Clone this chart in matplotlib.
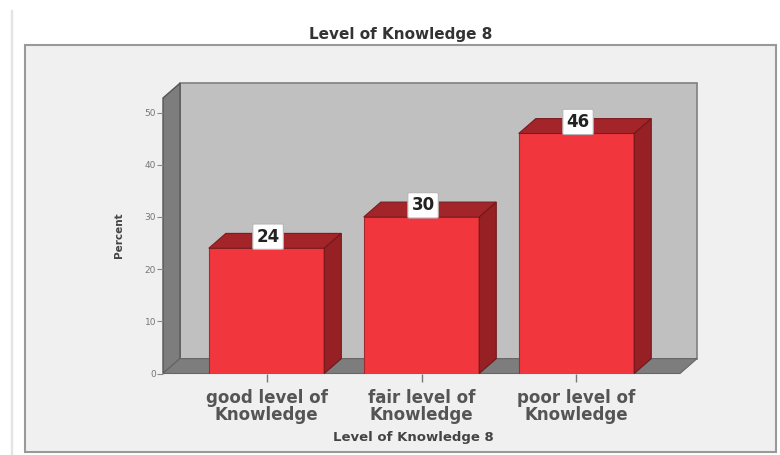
import numpy as np
import matplotlib
matplotlib.use('Agg')
import matplotlib.pyplot as plt
from matplotlib.patches import Polygon, Rectangle

# Datos
categorias = ['good level of\nKnowledge', 'fair level of\nKnowledge', 'poor level of\nKnowledge']
porcentajes = [24, 30, 46]
y_ticks = [0, 10, 20, 30, 40, 50]

W, H = 780, 455
dx, dy = 0.11, 2.85  # profundidad 3D en unidades de datos
ancho = 0.745

fig = plt.figure(figsize=(7.8, 4.55), dpi=100, facecolor='white')

# Paneles de fondo en pixeles
fig.add_artist(Rectangle((11 / W, 0), 1.5 / W, 1 - 10 / H, transform=fig.transFigure, color='#e4e4e4', zorder=-2))
fig.add_artist(Rectangle((25 / W, 1 - 452 / H), 751 / W, 407 / H, transform=fig.transFigure,
                         facecolor='#f0f0f0', edgecolor='#999999', lw=1.5, zorder=-1))

ax = fig.add_axes([163 / W, 1 - 373.5 / H, 517 / W, 275.5 / H])
ax.set_xlim(-0.668, 2.668)
ax.set_ylim(0, 52.8)
ax.patch.set_visible(False)
for s in ax.spines.values():
    s.set_visible(False)

x0, x1 = ax.get_xlim()
y1 = ax.get_ylim()[1]

# Paredes del grafico 3D
ax.add_patch(Rectangle((x0 + dx, dy), x1 - x0, y1, facecolor='#c0c0c0', edgecolor='#808080', lw=1.2, clip_on=False))
ax.add_patch(Polygon([(x0, 0), (x0 + dx, dy), (x0 + dx, y1 + dy), (x0, y1)], facecolor='#7d7d7d',
                     edgecolor='#555555', lw=1, clip_on=False))
ax.add_patch(Polygon([(x0, 0), (x1, 0), (x1 + dx, dy), (x0 + dx, dy)], facecolor='#7d7d7d',
                     edgecolor='#666666', lw=0.8, clip_on=False))

# Barras
pos = np.arange(len(porcentajes))
ax.bar(pos, porcentajes, width=ancho, color='#f2363d', edgecolor='#a52a2e', lw=0.8, zorder=3)
for p, v in zip(pos, porcentajes):
    a, b = p - ancho / 2, p + ancho / 2
    ax.add_patch(Polygon([(a, v), (b, v), (b + dx, v + dy), (a + dx, v + dy)], facecolor='#a32429',
                         edgecolor='#7a1c1f', lw=0.8, zorder=3, clip_on=False))
    ax.add_patch(Polygon([(b, 0), (b + dx, dy), (b + dx, v + dy), (b, v)], facecolor='#962024',
                         edgecolor='#6e1a1c', lw=0.8, zorder=3, clip_on=False))
    ax.text(p + 0.01, v + 0.5, str(v), ha='center', va='bottom', fontsize=12, fontweight='bold',
            color='#222222', zorder=5,
            bbox=dict(boxstyle='round,pad=0.22,rounding_size=0.08', facecolor='white', edgecolor='#b5b5b5', lw=0.8))

ax.set_xticks(pos)
ax.set_xticklabels(categorias, fontsize=12, color='#555555', fontweight='bold', linespacing=0.95)
ax.set_yticks(y_ticks)
ax.tick_params(axis='y', labelsize=6.5, labelcolor='#777777', length=4, width=0.8, color='#888888', pad=1)
ax.tick_params(axis='x', length=6, width=1, color='#777777', pad=5)

fig.text(401 / W, 1 - 34 / H, 'Level of Knowledge 8', ha='center', va='center', fontsize=11,
         fontweight='bold', color='#333333')
fig.text(413 / W, 1 - 437 / H, 'Level of Knowledge 8', ha='center', va='center', fontsize=9.5,
         fontweight='bold', color='#444444')
fig.text(119 / W, 1 - 235 / H, 'Percent', ha='center', va='center', rotation=90, fontsize=7.5,
         fontweight='bold', color='#444444')

fig.savefig('out.png', dpi=100)
